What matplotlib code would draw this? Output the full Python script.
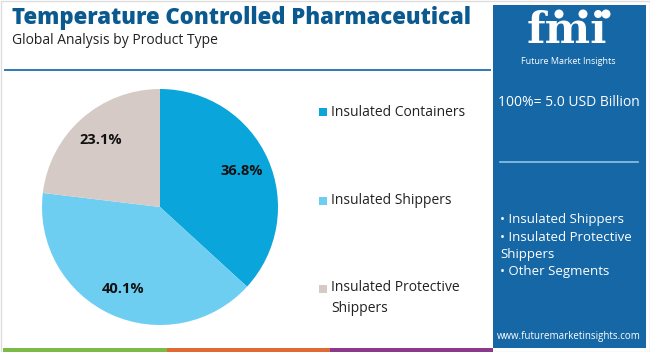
import matplotlib.pyplot as plt
from matplotlib.patches import Rectangle, Circle

segments = ['Insulated Containers', 'Insulated Shippers', 'Insulated Protective\nShippers']
shares = [36.8, 40.1, 23.1]
colors = ['#0AA5DB', '#6DCEF2', '#D5CAC6']
total_label = '100%= 5.0 USD Billion'
panel_items = ['• Insulated Shippers', '• Insulated Protective', 'Shippers', '• Other Segments']

TITLE_BLUE = '#0B5A8F'
PANEL_BLUE = '#1667A6'

plt.rcParams['font.family'] = ['Open Sans', 'DejaVu Sans']

W, H = 650, 352
fig = plt.figure(figsize=(W / 100, H / 100), dpi=100)
fig.patch.set_facecolor('white')

# pixel-space layer for the decorations
bg = fig.add_axes([0, 0, 1, 1])
bg.set_xlim(0, W)
bg.set_ylim(H, 0)
bg.axis('off')

bg.add_patch(Rectangle((0.5, 0.5), W - 1, H - 1, fill=False, ec='#DDDDDD', lw=1))

bg.text(12, 18, 'Temperature Controlled Pharmaceutical', color=TITLE_BLUE,
        fontsize=15.9, fontweight='heavy', va='center', ha='left')
bg.text(12, 41, 'Global Analysis by Product Type', color='#222222',
        fontsize=10, va='center', ha='left')
bg.plot([5, 490], [70, 70], color='#2F79B5', lw=1.4)

# right panel
bg.add_patch(Rectangle((493, 5), 153, 343, color=PANEL_BLUE, lw=0))
bg.text(567, 31, 'fmi', color='white', fontsize=31, fontweight='bold',
        family='DejaVu Serif', ha='center', va='center')
for cx in (559, 583, 606):
    bg.add_patch(Circle((cx, 14), 4.5, fc='white', ec='none'))
bg.text(568, 62, 'Future Market Insights', color='white', fontsize=6.5,
        ha='center', va='center')
bg.text(569, 103, total_label, color='white', fontsize=10, ha='center', va='center')
bg.plot([500, 638], [162, 162], color='#8FC3E8', lw=1.2)
for i, item in enumerate(panel_items):
    bg.text(500, 220 + i * 17.3, item, color='white', fontsize=9.5,
            ha='left', va='center')
bg.text(569, 337, 'www.futuremarketinsights.com', color='white', fontsize=7,
        ha='center', va='center')

# bottom colour strip
for x0, x1, c in [(3, 167, '#7DBB48'), (167, 330, '#E06A35'), (330, 493, '#8B3A8B')]:
    bg.add_patch(Rectangle((x0, 348), x1 - x0, 4, color=c, lw=0))

# legend
legend_y = [112, 201, 298]
for name, c, y in zip(segments, colors, legend_y):
    yy = y if '\n' not in name else y - 9
    bg.add_patch(Rectangle((319, yy - 4), 8, 8, color=c, lw=0))
    bg.text(331, y, name, color='#222222', fontsize=10, ha='left', va='center',
            linespacing=1.6)

# pie
ax = fig.add_axes([42 / W, 27 / H, 236 / W, 236 / H])
ax.pie(shares, colors=colors, startangle=90, counterclock=False,
       autopct='%.1f%%', pctdistance=0.76,
       textprops={'fontsize': 10.5, 'fontweight': 'bold', 'color': '#111111'},
       wedgeprops={'linewidth': 0})
ax.set_xlim(-1, 1)
ax.set_ylim(-1, 1)
ax.set_aspect('equal')

fig.savefig('out.png', dpi=100)
